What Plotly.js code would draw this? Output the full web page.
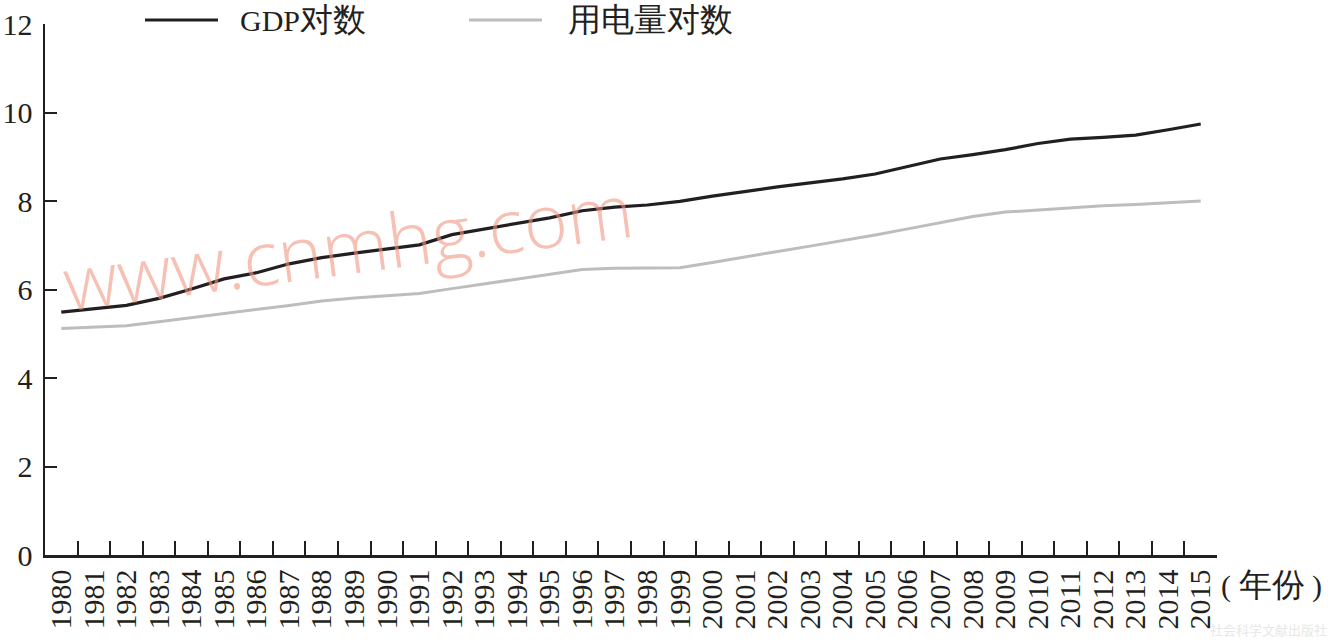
<!DOCTYPE html>
<html>
<head>
<meta charset="utf-8">
<script src="https://cdn.plot.ly/plotly-3.0.1.min.js"></script>
<style>html,body{margin:0;padding:0;background:#fff;}#chart{width:1331px;height:643px;}</style>
</head>
<body>
<div id="chart"></div>
<script>
var years = ['1980','1981','1982','1983','1984','1985','1986','1987','1988','1989',
             '1990','1991','1992','1993','1994','1995','1996','1997','1998','1999',
             '2000','2001','2002','2003','2004','2005','2006','2007','2008','2009',
             '2010','2011','2012','2013','2014','2015'];
var gdpLog = [5.49,5.56,5.64,5.80,6.01,6.24,6.38,6.58,6.72,6.82,
              6.91,7.01,7.24,7.37,7.49,7.62,7.78,7.86,7.91,7.99,
              8.11,8.22,8.32,8.41,8.50,8.61,8.78,8.95,9.05,9.16,
              9.30,9.40,9.44,9.49,9.61,9.74];
var elecLog = [5.12,5.15,5.18,5.27,5.36,5.46,5.55,5.64,5.74,5.81,
               5.86,5.91,6.02,6.13,6.23,6.34,6.45,6.48,6.48,6.49,
               6.61,6.74,6.86,6.98,7.10,7.23,7.37,7.51,7.65,7.75,
               7.80,7.85,7.89,7.92,7.96,8.00];
var seriesNames = ['GDP对数','用电量对数'];
var seriesColors = ['#231f20','#bdbdbf'];
var yTicks = [0,2,4,6,8,10,12];
var xUnit = '( 年份 )';
var watermark = 'www.cnmhg.com';
var publisher = '社会科学文献出版社';

var serif = 'Liberation Serif';
var ink = '#231f20';

// slightly larger size for CJK glyphs so they match the Latin text
function cjk(s) {
  return s.replace(/([\u4e00-\u9fff]+)/g, '<span style="font-size:33px">$1</span>');
}

var traces = [
  {x: years, y: gdpLog, name: seriesNames[0], type: 'scatter', mode: 'lines',
   line: {color: seriesColors[0], width: 3.2}},
  {x: years, y: elecLog, name: seriesNames[1], type: 'scatter', mode: 'lines',
   line: {color: seriesColors[1], width: 3}}
];

// legend drawn as sample line + label above the plot
var legY = 1.0075;
var legSpots = [{l0: 0.0853, l1: 0.1476, t: 0.1647}, {l0: 0.3618, l1: 0.4241, t: 0.4445}];
var shapes = [], annotations = [];
seriesNames.forEach(function (nm, i) {
  shapes.push({type: 'line', xref: 'paper', yref: 'paper', x0: legSpots[i].l0, x1: legSpots[i].l1,
               y0: legY, y1: legY, line: {color: seriesColors[i], width: 3}});
  annotations.push({text: cjk(nm), xref: 'paper', yref: 'paper', x: legSpots[i].t, y: legY,
                    xanchor: 'left', yanchor: 'middle', showarrow: false,
                    font: {family: serif, size: 30, color: ink}});
});
annotations.push(
  {text: cjk(xUnit), xref: 'paper', yref: 'paper', x: 1, y: 0, xanchor: 'left', yanchor: 'middle',
   xshift: 2, yshift: -30, showarrow: false,
   font: {family: serif, size: 30, color: ink}},
  {text: watermark, xref: 'paper', yref: 'paper', x: 0.2585, y: 0.584, xanchor: 'center', yanchor: 'middle',
   textangle: -7.5, showarrow: false,
   font: {family: '"Open Sans", sans-serif', size: 75, color: 'rgba(240,150,130,0.6)', weight: 300}},
  {text: publisher, xref: 'paper', yref: 'paper', x: 1, y: 0, xanchor: 'right', yanchor: 'bottom',
   xshift: 112, yshift: -86, showarrow: false,
   font: {family: '"Noto Sans CJK SC", sans-serif', size: 13, color: '#e8e8e8'}}
);

var layout = {
  width: 1331, height: 643,
  margin: {l: 45, r: 114, t: 24, b: 88, autoexpand: false},
  paper_bgcolor: '#fff', plot_bgcolor: '#fff',
  font: {family: serif, color: ink, size: 30},
  showlegend: false,
  xaxis: {type: 'category', range: [-0.5, 35.5], tickmode: 'linear', tick0: 0, dtick: 1,
          tickson: 'boundaries',
          ticks: 'inside', ticklen: 14, tickwidth: 2, tickcolor: ink,
          showline: true, linewidth: 2.5, linecolor: ink,
          showgrid: false, zeroline: false, tickangle: -90,
          tickfont: {family: serif, size: 30, color: ink},
          ticklabelstandoff: 0, automargin: false},
  yaxis: {range: [0, 12], tickvals: yTicks, ticktext: yTicks.map(String),
          ticks: 'inside', ticklen: 12, tickwidth: 2, tickcolor: ink,
          showline: true, linewidth: 2.5, linecolor: ink,
          showgrid: false, zeroline: false,
          tickfont: {family: serif, size: 30, color: ink},
          ticklabelstandoff: 4, automargin: false},
  shapes: shapes,
  annotations: annotations
};

Plotly.newPlot('chart', traces, layout, {displayModeBar: false, staticPlot: true});
</script>
</body>
</html>
